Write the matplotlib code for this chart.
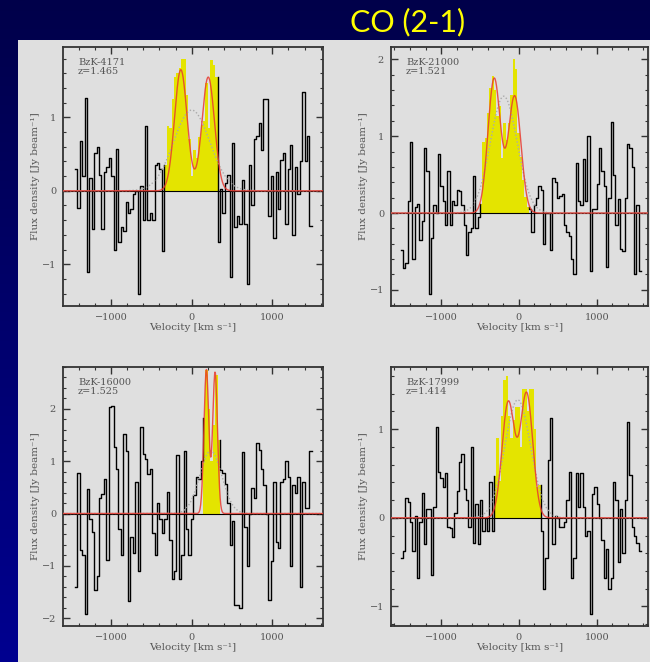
import numpy as np
import matplotlib
matplotlib.use('Agg')
import matplotlib.pyplot as plt
from matplotlib.patches import Rectangle
from matplotlib.ticker import MultipleLocator

# ---------------- data ----------------
names = ["BzK-4171", "BzK-21000", "BzK-16000", "BzK-17999"]
redshifts = ["z=1.465", "z=1.521", "z=1.525", "z=1.414"]
v_start = [-1450, -1520, -1450, -1520]   # first channel edge [km/s]
chan_width = [30, 30, 30, 30]            # channel width [km/s]

flux_4171 = [
    0.30, -0.24, 0.68, 0.20, 1.27, -1.10, 0.18, -0.52, 0.52, 0.60,
    0.22, -0.52, 0.25, 0.32, 0.45, 0.20, -0.80, 0.57, -0.70, -0.50,
    -0.55, -0.15, -0.30, -0.25, -0.05, 0.00, -1.40, 0.07, -0.40, 0.88,
    -0.40, -0.30, -0.40, 0.35, 0.38, 0.30, -0.82,
    0.35, 0.88, 0.85, 1.25, 1.55, 1.60, 1.68, 1.80, 1.80, 1.30,
    0.70, 0.20, 0.55, 0.45, 0.74, 0.90, 0.95, 1.47, 0.85, 1.78,
    1.72, 1.55,
    -0.70, 0.03, -0.30, 0.10, 0.22, -1.17, 0.65, -0.50, -0.35, -0.45,
    0.15, -0.45, -1.27, 0.35, -0.20, 0.70, 0.75, 0.92, 0.55, 1.25,
    1.25, -0.35, 0.20, -0.65, 0.25, -0.25, 0.42, 0.52, -0.45, 0.30,
    0.62, -0.60, 0.32, -0.05, 0.40, 1.35, 0.40, 0.75, -0.48]

flux_21000 = [
    -0.48, -0.72, -0.65, 0.15, 0.93, -0.60, 0.08, 0.12, -0.35, -0.10,
    0.84, 0.55, -1.05, -0.33, 0.10, 0.00, 0.77, 0.35, 0.15, -0.15,
    0.55, -0.15, 0.15, 0.10, 0.30, 0.28, 0.10, -0.15, -0.55, -0.25,
    -0.20, 0.48, -0.20, -0.05,
    0.12, 0.93, 0.97, 1.30, 1.63, 1.78, 1.60, 1.26, 1.39, 0.71,
    1.17, 0.95, 1.17, 1.54, 2.00, 1.87, 1.04, 0.73, 0.43, 0.21,
    0.08,
    0.05, -0.25, 0.10, 0.20, 0.35, 0.30, -0.40, 0.00, 0.00, -0.48,
    0.45, 0.40, 0.20, 0.22, 0.25, -0.15, -0.25, -0.30, -0.60, -0.80,
    0.65, 0.15, 0.10, 0.70, 0.15, 1.00, -0.75, 0.05, 0.05, 0.38,
    0.85, 0.55, 0.35, -0.70, 0.20, 1.18, 0.50, -0.15, 0.18, -0.47,
    -0.50, 0.20, 0.90, 0.85, 0.60, -0.80, 0.10, -0.75]

flux_16000 = [
    -1.40, 0.77, -0.70, -0.80, -1.93, 0.47, -0.10, -0.35, -1.47, -1.20,
    0.30, 0.38, 0.65, -0.88, 2.03, 2.05, 1.27, 0.85, -0.30, -0.80,
    1.52, 1.20, -1.68, -0.45, -0.75, 0.60, -1.10, 1.65, 1.13, 1.05,
    0.75, 0.85, -0.38, -0.80, 0.20, -0.10, -0.38, -0.10, 0.42, -0.50,
    -1.25, -1.10, 1.12, -1.25, -0.80, 1.20, -0.30, -0.80, -0.10, 0.35,
    0.70, 0.65, 1.00,
    1.82, 2.75, 2.00, 1.00, 1.70, 2.65, 1.40,
    0.83, 0.77, 0.57, 0.20, -0.60, -0.15, -1.75, -1.75, -1.80, 1.18,
    -0.25, -1.00, 0.00, 0.48, 0.30, 1.35, 1.22, 0.85, 0.55, 0.00,
    -1.65, -0.90, 0.60, -0.55, -0.65, 0.60, 0.65, 1.00, 0.70, -1.00,
    0.55, 0.40, 0.70, -1.40, 0.60, 0.10, 0.10, 1.20]

flux_17999 = [
    -0.45, -0.38, 0.22, 0.18, -0.05, -0.38, 0.02, -0.68, -0.05, 0.28,
    -0.30, 0.10, 0.10, -0.65, 0.12, 1.02, 0.52, 0.45, 0.35, 0.50,
    -0.10, -0.12, -0.22, 0.05, 0.30, 0.63, 0.72, 0.32, 0.20, -0.10,
    0.80, -0.28, 0.16, -0.30, 0.20, -0.15, 0.00, -0.15, 0.40, -0.15,
    0.47, 0.90, 0.42, 1.15, 1.55, 1.60, 1.15, 0.90, 1.10, 1.25,
    1.25, 0.80, 1.45, 1.45, 1.20, 1.45, 1.45, 1.00, 0.35, 0.37,
    -0.15, -0.80, -0.45, 0.65, 1.12, -0.30, 0.02, 0.00, -0.10, -0.10,
    -0.05, 0.20, 0.52, -0.68, -0.45, 0.50, 0.12, 0.50, 0.12, -0.20,
    -0.15, -1.08, 0.27, 0.35, 0.15, 0.00, -0.25, -0.68, -0.35, -0.80,
    -0.68, 0.40, 0.20, -0.50, 0.10, -0.40, 0.20, 1.08, 0.48, -0.10,
    -0.20, -0.28, -0.38]

spectra = [flux_4171, flux_21000, flux_16000, flux_17999]

# velocity window of the line emission (yellow)
line_window = [(-340, 320), (-500, 130), (140, 350), (-320, 280)]

# double-gaussian fit (red) parameters
fit_amp = [(1.65, 1.55), (1.75, 1.52), (2.75, 2.70), (1.30, 1.40)]
fit_cen = [(-135, 205), (-318, -55), (182, 290), (-137, 99)]
fit_sig = [78, 80, 30, 80]
# single-gaussian fit (grey dotted) parameters
one_amp = [1.10, 1.52, 1.20, 1.33]
one_cen = [0, -195, 236, -15]
one_sig = [225, 172, 136, 166]

xlims = [(-1597, 1629), (-1645, 1660), (-1597, 1629), (-1645, 1660)]
ylims = [(-1.57, 1.96), (-1.21, 2.16), (-2.15, 2.80), (-1.22, 1.70)]

# ---------------- figure ----------------
W, H = 650, 662
fig = plt.figure(figsize=(W / 100, H / 100), dpi=100)

bg = fig.add_axes([0, 0, 1, 1], zorder=-10)
grad = np.linspace(0, 1, 256).reshape(-1, 1)
from matplotlib.colors import LinearSegmentedColormap
cmap = LinearSegmentedColormap.from_list("slide", ["#00004a", "#000090"])
bg.imshow(grad, aspect='auto', cmap=cmap, extent=[0, 1, 0, 1], origin='upper')
bg.add_patch(Rectangle((18 / W, 0), 1 - 18 / W, 1 - 40 / H,
                       facecolor="#dfdfdf", edgecolor="none"))
bg.set_xlim(0, 1); bg.set_ylim(0, 1)
bg.axis('off')

fig.text(408 / W, 1 - 22 / H, "CO (2-1)", color="#ffff00", fontsize=22,
         family="Lato", ha="center", va="center", zorder=20)

positions = [(63, 47, 323, 306), (391, 47, 648, 306),
             (63, 367, 323, 626), (391, 367, 648, 626)]

txtcol = "#555555"
serif = "DejaVu Serif"


def stair_xy(edges, vals):
    x = np.repeat(edges, 2)[1:-1]
    y = np.repeat(vals, 2)
    return x, y


for k in range(4):
    x0, y0, x1, y1 = positions[k]
    ax = fig.add_axes([x0 / W, 1 - y1 / H, (x1 - x0) / W, (y1 - y0) / H])
    ax.set_facecolor("none")
    vals = np.array(spectra[k], dtype=float)
    n = len(vals)
    dv = chan_width[k]
    edges = v_start[k] + dv * np.arange(n + 1)
    cen = 0.5 * (edges[:-1] + edges[1:])
    lo, hi = line_window[k]
    inl = (cen > lo) & (cen < hi)
    idx = np.where(inl)[0]
    i0, i1 = idx[0], idx[-1]

    # yellow line channels
    ax.bar(cen[inl], vals[inl], width=dv, align='center', color="#e4e400",
           linewidth=0, zorder=2)

    # black spectrum outside the line
    xl, yl = stair_xy(edges[:i0 + 1], vals[:i0])
    xl = np.append(xl, edges[i0]); yl = np.append(yl, vals[i0])
    xr, yr = stair_xy(edges[i1 + 1:], vals[i1 + 1:])
    xr = np.insert(xr, 0, edges[i1 + 1]); yr = np.insert(yr, 0, vals[i1])
    ax.plot(xl, yl, color="black", lw=1.0, zorder=3)
    ax.plot(xr, yr, color="black", lw=1.0, zorder=3)

    ax.axhline(0, color="black", lw=0.8, zorder=3)

    xx = np.linspace(xlims[k][0], xlims[k][1], 800)
    g1 = one_amp[k] * np.exp(-0.5 * ((xx - one_cen[k]) / one_sig[k]) ** 2)
    ax.plot(xx, g1, color="#aaaaaa", lw=1.0, ls=(0, (1, 1.5)), zorder=4)
    g2 = np.zeros_like(xx)
    for a, m in zip(fit_amp[k], fit_cen[k]):
        g2 += a * np.exp(-0.5 * ((xx - m) / fit_sig[k]) ** 2)
    ax.plot(xx, g2, color="#e83a30", lw=1.0, alpha=0.85, zorder=5)

    ax.set_xlim(*xlims[k])
    ax.set_ylim(*ylims[k])
    ax.xaxis.set_major_locator(MultipleLocator(1000))
    ax.xaxis.set_minor_locator(MultipleLocator(200))
    ax.yaxis.set_major_locator(MultipleLocator(1))
    ax.yaxis.set_minor_locator(MultipleLocator(0.2))
    ax.tick_params(which='both', direction='in', top=True, right=True,
                   color="#333333", labelcolor=txtcol, labelsize=7)
    ax.tick_params(which='major', length=5, width=1.0, pad=5)
    ax.tick_params(which='minor', length=2.5, width=0.8)
    for lab in ax.get_xticklabels() + ax.get_yticklabels():
        lab.set_family(serif)
    for s in ax.spines.values():
        s.set_color("#333333"); s.set_linewidth(1.3)

    ax.set_xlabel("Velocity [km s⁻¹]", family=serif, fontsize=7.5, color=txtcol)
    ax.set_ylabel("Flux density [Jy beam⁻¹]", family=serif, fontsize=7.5,
                  color=txtcol)
    ax.xaxis.set_label_coords(0.5, -21 / (y1 - y0))
    ax.yaxis.set_label_coords(-27 / (x1 - x0), 0.5)
    ax.xaxis.label.set_va("center")
    ax.yaxis.label.set_va("center")

    ax.text(15 / (x1 - x0), 1 - 11 / (y1 - y0), names[k] + "\n" + redshifts[k],
            transform=ax.transAxes, ha="left", va="top", family=serif,
            fontsize=7, color=txtcol, linespacing=0.95)

fig.savefig("out.png", dpi=100)
